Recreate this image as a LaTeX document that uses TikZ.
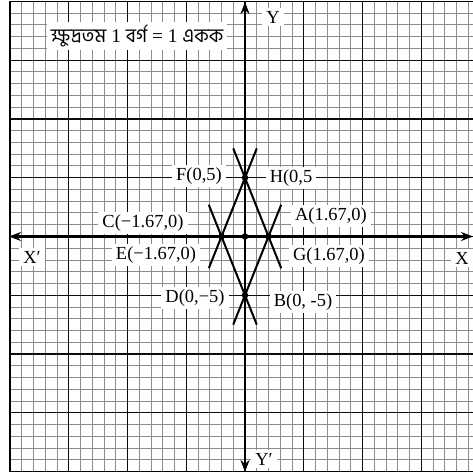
\documentclass[tikz,border=0pt]{standalone}
\usepackage{fontspec}
\setmainfont{Liberation Serif}
\newfontfamily\bnfont[Script=Bengali]{Hind Siliguri}
\usetikzlibrary{arrows.meta,calc}
\begin{document}
\begin{tikzpicture}[x=1bp,y=-1bp,
  minor/.style={draw=black!45, line width=1bp},
  major/.style={draw=black!95, line width=1.35bp},
  axis/.style={line width=2.4bp, {Stealth[length=12bp,width=9bp]}-{Stealth[length=12bp,width=9bp]}},
  graphline/.style={line width=2bp},
  lbl/.style={fill=white, inner xsep=4bp, inner ysep=3bp, font=\fontsize{18.5}{20}\selectfont},
  dot/.style={circle, fill=black, inner sep=0pt, minimum size=6.5bp}]
\useasboundingbox (0,0) rectangle (473,475);
\begin{scope}
\clip (0,0) rectangle (473,475);
\foreach \i in {-20,...,20} {
  \pgfmathsetmacro\xx{245+\i*11.75}
  \pgfmathsetmacro\yy{236.5+\i*11.75}
  \draw[minor] (\xx,1.5) -- (\xx,471.5);
  \draw[minor] (10,\yy) -- (480,\yy);
}
\foreach \i in {-4,...,4} {
  \pgfmathsetmacro\xx{245+\i*58.75}
  \pgfmathsetmacro\yy{236.5+\i*58.75}
  \draw[major] (\xx,1.5) -- (\xx,471.5);
  \draw[major] (10,\yy) -- (480,\yy);
}
\draw[line width=1.5bp] (480,1.5) -- (10,1.5) -- (10,471.5) -- (480,471.5);
\end{scope}
% axes
\coordinate (xl) at (9,236.5);
\coordinate (xr) at (473,236.5);
\coordinate (yt) at (245,2);
\coordinate (yb) at (245,472);
\draw[axis] (xl) -- (xr);
\draw[axis] (yb) -- (yt);
% points
\coordinate (O) at (245,236.5);
\coordinate (F) at (245,177.75);
\coordinate (C) at (221.5,236.5);
\coordinate (A) at (268.5,236.5);
\coordinate (D) at (245,295.25);
\draw[graphline] ($(C)!1.5!(F)$) -- ($(F)!1.54!(C)$);
\draw[graphline] ($(A)!1.5!(F)$) -- ($(F)!1.54!(A)$);
\draw[graphline] ($(C)!1.5!(D)$) -- ($(D)!1.54!(C)$);
\draw[graphline] ($(A)!1.5!(D)$) -- ($(D)!1.54!(A)$);
\foreach \p in {O,F,C,A,D} \node[dot] at (\p) {};
% labels
\node[lbl, font=\fontsize{19.5}{22}\selectfont] (note) at (137,36) {{\bnfont ক্ষুদ্রতম} 1 {\bnfont বর্গ} = 1 {\bnfont একক}};
\node[lbl] (ly) at (273,17) {Y};
\node[lbl] (lyp) at (264,459) {Y′};
\node[lbl] (lxp) at (32,257) {X′};
\node[lbl] (lx) at (462,258) {X};
\node[lbl] (lF) at (199,176) {F(0,5)};
\node[lbl] (lH) at (291,178) {H(0,5};
\node[lbl] (lC) at (143,223) {C(−1.67,0)};
\node[lbl] (lE) at (156,255) {E(−1.67,0)};
\node[lbl] (lA) at (331,216) {A(1.67,0)};
\node[lbl] (lG) at (329,256) {G(1.67,0)};
\node[lbl] (lD) at (195,298) {D(0,−5)};
\node[lbl] (lB) at (303,302) {B(0, -5)};
\end{tikzpicture}
\end{document}
